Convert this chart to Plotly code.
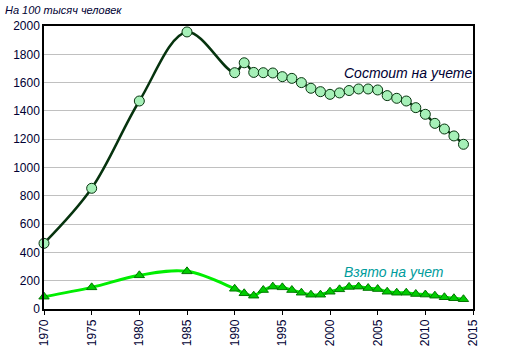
import plotly.graph_objects as go

years_reg = [1970, 1975, 1980, 1985, 1990, 1991, 1992, 1993, 1994, 1995, 1996, 1997,
             1998, 1999, 2000, 2001, 2002, 2003, 2004, 2005, 2006, 2007, 2008, 2009,
             2010, 2011, 2012, 2013, 2014]
registered = [464, 853, 1470, 1958, 1670, 1740, 1672, 1670, 1668, 1642, 1630, 1600,
              1560, 1536, 1517, 1527, 1544, 1555, 1555, 1548, 1508, 1489, 1470, 1423,
              1376, 1312, 1272, 1223, 1164]

years_new = years_reg
new_cases = [87, 153, 238, 266, 143, 111, 94, 134, 158, 153, 134, 115,
             101, 101, 122, 139, 156, 158, 148, 141, 122, 115, 115, 106,
             102, 94, 83, 76, 69]

x_ticks = list(range(1970, 2016, 5))
y_ticks = list(range(0, 2001, 200))

font_family = "Arial, Liberation Sans, sans-serif"

W, H = 511, 356
ML, MR, MT, MB = 44, 38, 26, 47

fig = go.Figure()
fig.add_trace(go.Scatter(
    x=years_new, y=new_cases, mode="lines+markers",
    line=dict(color="#00ee00", width=3, shape="spline", smoothing=1),
    marker=dict(symbol="triangle-up", size=9, color="#00cc00",
                line=dict(color="#007700", width=1)),
    showlegend=False, cliponaxis=False))
fig.add_trace(go.Scatter(
    x=years_reg, y=registered, mode="lines+markers",
    line=dict(color="#06330e", width=2.5, shape="spline", smoothing=1),
    marker=dict(symbol="circle", size=10, color="#a6f0b8",
                line=dict(color="#06330e", width=1)),
    showlegend=False, cliponaxis=False))

pw = W - ML - MR
ph = H - MT - MB

fig.update_layout(
    width=W, height=H,
    margin=dict(l=ML, r=MR, t=MT, b=MB, autoexpand=False),
    paper_bgcolor="white", plot_bgcolor="white",
    font=dict(family=font_family, size=12, color="#000033"),
    xaxis=dict(range=[1970, 2015], tickvals=x_ticks, ticktext=[str(v) for v in x_ticks],
               tickangle=-90, showgrid=False, showline=True, linecolor="black",
               linewidth=1.5, mirror=True, ticks="outside", ticklen=4,
               tickcolor="black", zeroline=False, automargin=False,
               tickfont=dict(family=font_family, size=12, color="#000033")),
    yaxis=dict(range=[0, 2000], tickvals=y_ticks, showgrid=True, gridcolor="#c0c0c0",
               gridwidth=1, showline=True, linecolor="black", linewidth=1.5,
               mirror=True, ticks="", zeroline=False, automargin=False,
               tickfont=dict(family=font_family, size=12, color="#000033")),
    annotations=[
        dict(text="На 100 тысяч человек", x=(3 - ML) / pw, y=(H - MB - 10) / ph,
             xref="paper", yref="paper",
             showarrow=False, xanchor="left", yanchor="middle",
             font=dict(family=font_family, size=11, color="#000033", style="italic")),
        dict(text="Состоит на учете", x=2001.3, y=1668, xref="x", yref="y",
             showarrow=False, xanchor="left", yanchor="middle",
             font=dict(family=font_family, size=14, color="#000033", style="italic")),
        dict(text="Взято на учет", x=2001.3, y=262, xref="x", yref="y",
             showarrow=False, xanchor="left", yanchor="middle",
             font=dict(family=font_family, size=14, color="#009c9c", style="italic")),
    ],
)

fig.write_html("out.html", config={"displayModeBar": False},
               post_script="document.body.style.margin='0';document.body.style.overflow='hidden';")
